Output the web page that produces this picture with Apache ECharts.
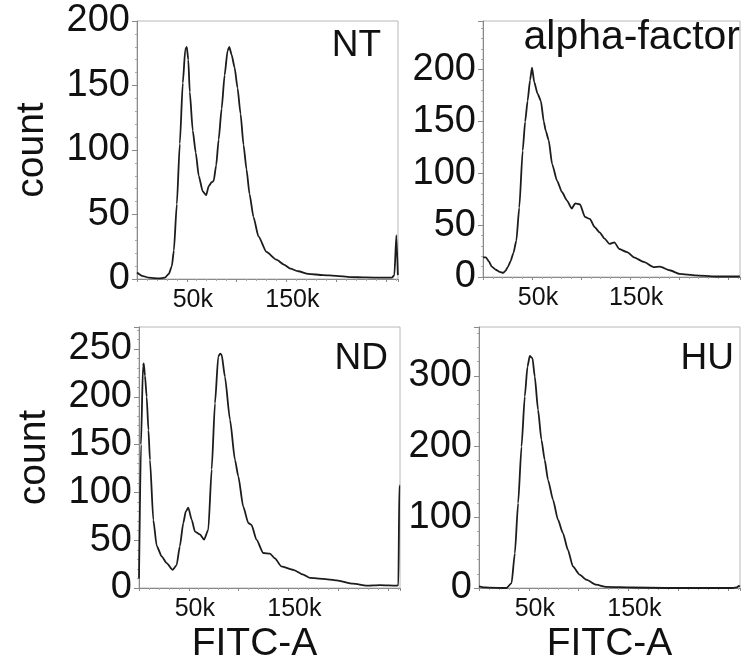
<!DOCTYPE html>
<html>
<head>
<meta charset="utf-8">
<script src="https://cdn.jsdelivr.net/npm/echarts@6/dist/echarts.min.js"></script>
<style>
html,body{margin:0;padding:0;background:#fff;}
#c{width:743px;height:667px;}
</style>
</head>
<body>
<div id="c"></div>
<script>
// FITC-A in thousands (k), counts per bin
var ntX = [0,5,12,22,28,32,35,37,40,43,46,48.5,50,51.5,53,56,59,62,66,69.5,72,75,77,79.5,82,85,88,91,92.7,95,98,101,104,107,110,113,117,122,130,140,148,154,162,172,187,200,214,230,247,256,258.5,260.5,262];
var ntY = [5,2.5,1,0.5,1,4,10,22,58,105,152,178,180,170,145,115,98,80,68,65,72,75,76,88,108,132,158,177,180,174,164,148,128,104,85,66,48,33,21,15,11,8,6,4,3,2.5,1.5,1.2,1,1,3,34,3];

var afX = [0,3,6,9,13,17,20.5,23,25.5,28,31,34,37,40.5,43,45.5,48,50,52.3,55.6,59,62,64,67,70.5,75.5,80.5,85.5,90.5,94,99,104,109,114,119,124,129,134,139,147,154,164,174,180.5,190.5,200.5,217,237,262];
var afY = [19,19,15,10,7,5,4,6,10,15,23,35,67,122,150,170,190,202,188,177,170,150,141,132,109,93,82,74,66,71,70,58,56,48,43,37,32,33.5,27,24,19,14.5,9.6,10,6.5,3,1.5,0.5,0.5];

var ndX = [0,2,4,4.8,6,7.7,9.5,11,14.4,17.8,22.8,27.8,33.8,37.8,41,44.5,47,49.5,52.9,56.2,61.2,65.3,69.6,73,76.3,79.6,81.5,83,86.3,91.4,96.4,99.7,104.7,109.8,113,118,124.8,131.5,136.5,143,155,165,171.7,185,198.5,215,228.7,242,258.7,260.5,261.5,262];
var ndY = [10,150,232,235,222,200,165,134,71,44,33,26,19,24,43.5,68,80,84,71.5,59,56,50.5,61,124,193,242,245,244,221,176,134,117,85,68,66,50.5,36.6,36,31,22.6,19,14,10.5,9.5,8,4.5,2.4,3,2.5,3,108,108];

var huX = [0,5,10,27.7,32.7,36,39.3,42.7,46,48.7,51,53.7,56,59.3,62.7,66,69.3,74.3,79.3,84.3,89.3,94.3,101,107.7,117.7,127.7,154,187.7,255,259,261,262];
var huY = [2.3,1,0.5,0,7,49,120,200,271,313,328,325,299,252,209.5,181,153,125,96.5,77.7,54,30.5,19,11.7,4.7,1.5,0.7,0,0,1,3,2];

var panelNames = ['NT','alpha-factor','ND','HU'];
var yMax = [200,247,273,369];
var yStep = [50,50,50,100];
var xTickLabels = {50:'50k',150:'150k'};

function pairs(xs, ys){ return xs.map(function(x,i){return [x, ys[i]];}); }
var series = [pairs(ntX,ntY), pairs(afX,afY), pairs(ndX,ndY), pairs(huX,huY)];

var grids = [
  {left:137, top:21, width:261, height:258},
  {left:483, top:21, width:262, height:256},
  {left:139, top:327, width:261, height:261},
  {left:479, top:327, width:262, height:261}
];
var FONT = 'Liberation Sans, Arial, Helvetica, sans-serif';
var axisGray = '#8a8a8a';

var option = {
  backgroundColor:'#fff',
  animation:false,
  title: [
    {text:panelNames[0], right:743-381, top:27, size:37},
    {text:panelNames[1], right:743-740, top:17, size:41},
    {text:panelNames[2], right:743-388, top:340, size:37},
    {text:panelNames[3], right:743-734, top:340, size:37}
  ].map(function(t){ t.padding=0; t.textStyle={fontSize:t.size,fontWeight:'normal',color:'#111',fontFamily:FONT}; delete t.size; return t;}),
  grid: grids.map(function(g){ g.show=true; g.borderColor='#b8b8b8'; g.borderWidth=1; g.backgroundColor='transparent'; return g; }),
  xAxis: grids.map(function(g,i){
    return {
      type:'value', gridIndex:i, min:0, max:262.144, interval:50,
      axisLine:{show:true, onZero:false, lineStyle:{color:axisGray,width:1}},
      axisTick:{show:true, length:3, lineStyle:{color:axisGray}},
      minorTick:{show:true, splitNumber:5, length:2, lineStyle:{color:'#aaa'}},
      splitLine:{show:false},
      axisLabel:{margin:9, fontSize:25, color:'#111', fontFamily:FONT, padding:[0,0,0,12],
        formatter:function(v){ return xTickLabels[Math.round(v)] && Math.abs(v-Math.round(v))<1e-6 ? xTickLabels[Math.round(v)] : ''; }},
      name: i>=2 ? 'FITC-A' : '',
      nameLocation:'middle', nameGap:37,
      nameTextStyle:{fontSize:39, color:'#111', fontFamily:FONT, padding: i===2 ? [0,30,0,0] : 0}
    };
  }),
  yAxis: grids.map(function(g,i){
    return {
      type:'value', gridIndex:i, min:0, max:yMax[i], interval:yStep[i],
      axisLine:{show:true, lineStyle:{color:axisGray,width:1}},
      axisTick:{show:true, length:5, lineStyle:{color:axisGray}},
      minorTick:{show:true, splitNumber:5, length:2, lineStyle:{color:'#aaa'}},
      splitLine:{show:false},
      axisLabel:{margin:7, fontSize:38, color:'#111', fontFamily:FONT,
        formatter:function(v){ return (v % yStep[i] === 0) ? String(v) : ''; }},
      name: (i===0||i===2) ? 'count' : '',
      nameLocation:'middle', nameRotate:90, nameGap:85,
      nameTextStyle:{fontSize:39, color:'#111', fontFamily:FONT}
    };
  }),
  series: series.map(function(d,i){
    return {type:'line', xAxisIndex:i, yAxisIndex:i, data:d, showSymbol:false, symbol:'none',
      smooth:0.2, smoothMonotone:'x',
      lineStyle:{color:'#1c1c1c', width:1.8}, clip:true};
  })
};
var chart = echarts.init(document.getElementById('c'), null, {renderer:'canvas'});
chart.setOption(option);
</script>
</body>
</html>
